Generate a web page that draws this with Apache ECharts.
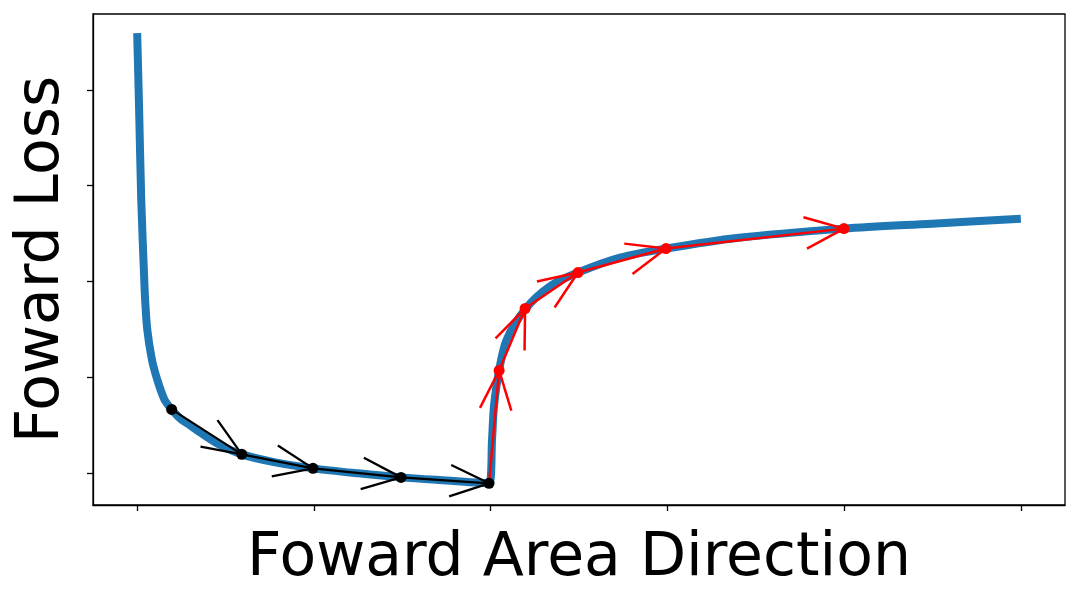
<!DOCTYPE html>
<html>
<head>
<meta charset="utf-8">
<script src="https://cdn.jsdelivr.net/npm/echarts@6/dist/echarts.min.js"></script>
<style>
  html, body { margin: 0; padding: 0; background: #fff; }
  #chart { width: 1079px; height: 600px; }
</style>
</head>
<body>
<div id="chart"></div>
<script>
// blue loss curve (x, y in axis units)
var curveX = [0, 0.011, 0.023, 0.040, 0.045, 0.057, 0.083, 0.113, 0.154, 0.195, 0.243, 0.300, 0.356, 0.469, 0.592, 0.781, 0.995, 1.25, 1.493, 1.75, 1.991,
  2.008, 2.019, 2.048, 2.091, 2.199, 2.336, 2.494, 2.732, 2.992, 3.392, 3.999, 4.497, 5.0]
var curveY = [4.59, 3.79, 2.85, 2.02, 1.81, 1.50, 1.19, 0.98, 0.77, 0.667, 0.573, 0.50, 0.427, 0.295, 0.198, 0.115, 0.052, 0.0, -0.042, -0.075, -0.104,
  0.354, 0.70, 1.076, 1.396, 1.719, 1.951, 2.094, 2.25, 2.344, 2.455, 2.552, 2.604, 2.656]

// black steps (going down the left branch)
var blackX = [0.195, 0.592, 0.995, 1.493, 1.991]
var blackY = [0.667, 0.198, 0.052, -0.042, -0.104]

// red steps (climbing the right branch)
var redX = [1.991, 2.048, 2.195, 2.494, 2.992, 3.999]
var redY = [-0.104, 1.073, 1.719, 2.094, 2.344, 2.552]

var xTicks = [0, 1, 2, 3, 4, 5]
var yTicks = [0, 1, 2, 3, 4]

var FONT = 'DejaVu Sans'

function pairs(xs, ys) {
  var out = []
  for (var i = 0; i < xs.length; i++) out.push([xs[i], ys[i]])
  return out
}

function segments(xs, ys) {
  var out = []
  for (var i = 1; i < xs.length; i++) out.push([xs[i - 1], ys[i - 1], xs[i], ys[i]])
  return out
}

// open "V" arrow head at the end of each segment
function arrowHead(color, width) {
  return function(params, api) {
    var p0 = api.coord([api.value(0), api.value(1)])
    var p1 = api.coord([api.value(2), api.value(3)])
    var dx = p0[0] - p1[0]
    var dy = p0[1] - p1[1]
    var len = Math.sqrt(dx * dx + dy * dy)
    dx /= len
    dy /= len
    var L = 42
    var a = 22 * Math.PI / 180
    var arms = []
    ;[a, -a].forEach(function(t) {
      var rx = dx * Math.cos(t) - dy * Math.sin(t)
      var ry = dx * Math.sin(t) + dy * Math.cos(t)
      arms.push({
        type: 'line',
        shape: { x1: p1[0], y1: p1[1], x2: p1[0] + rx * L, y2: p1[1] + ry * L },
        style: { stroke: color, lineWidth: width }
      })
    })
    return { type: 'group', children: arms }
  }
}

var redData = pairs(redX, redY)
redData[0] = { value: redData[0], symbol: 'none' }

var chart = echarts.init(document.getElementById('chart'))
chart.setOption({
  animation: false,
  grid: {
    left: 93,
    right: 14,
    top: 14,
    bottom: 95,
    show: true,
    borderColor: '#000',
    borderWidth: 1.3,
    backgroundColor: 'transparent'
  },
  xAxis: {
    type: 'value',
    min: -0.25,
    max: 5.25,
    name: 'Foward Area Direction',
    nameLocation: 'middle',
    nameGap: 24,
    nameTextStyle: { fontFamily: FONT, fontSize: 60, color: '#000' },
    axisLine: { show: true, onZero: false, lineStyle: { color: '#000', width: 1.3 } },
    axisTick: { show: true, customValues: xTicks, length: 6, lineStyle: { color: '#000', width: 1.3 } },
    axisLabel: { show: false },
    splitLine: { show: false }
  },
  yAxis: {
    type: 'value',
    min: -0.33,
    max: 4.79,
    name: 'Foward Loss',
    nameLocation: 'middle',
    nameGap: 21,
    nameTextStyle: { fontFamily: FONT, fontSize: 60, color: '#000' },
    axisLine: { show: true, onZero: false, lineStyle: { color: '#000', width: 1.3 } },
    axisTick: { show: true, customValues: yTicks, length: 6, lineStyle: { color: '#000', width: 1.3 } },
    axisLabel: { show: false },
    splitLine: { show: false }
  },
  series: [
    {
      type: 'line',
      data: pairs(curveX, curveY),
      smooth: 0.3,
      showSymbol: false,
      lineStyle: { color: '#1f77b4', width: 8 },
      z: 1
    },
    {
      type: 'line',
      data: redData,
      symbol: 'circle',
      symbolSize: 11,
      lineStyle: { color: '#ff0000', width: 2.5 },
      itemStyle: { color: '#ff0000' },
      z: 3
    },
    {
      type: 'custom',
      data: segments(redX, redY),
      renderItem: arrowHead('#ff0000', 2.5),
      z: 3
    },
    {
      type: 'line',
      data: pairs(blackX, blackY),
      symbol: 'circle',
      symbolSize: 11,
      lineStyle: { color: '#000', width: 2.3 },
      itemStyle: { color: '#000' },
      z: 4
    },
    {
      type: 'custom',
      data: segments(blackX, blackY),
      renderItem: arrowHead('#000', 2.3),
      z: 4
    }
  ]
})
</script>
</body>
</html>
